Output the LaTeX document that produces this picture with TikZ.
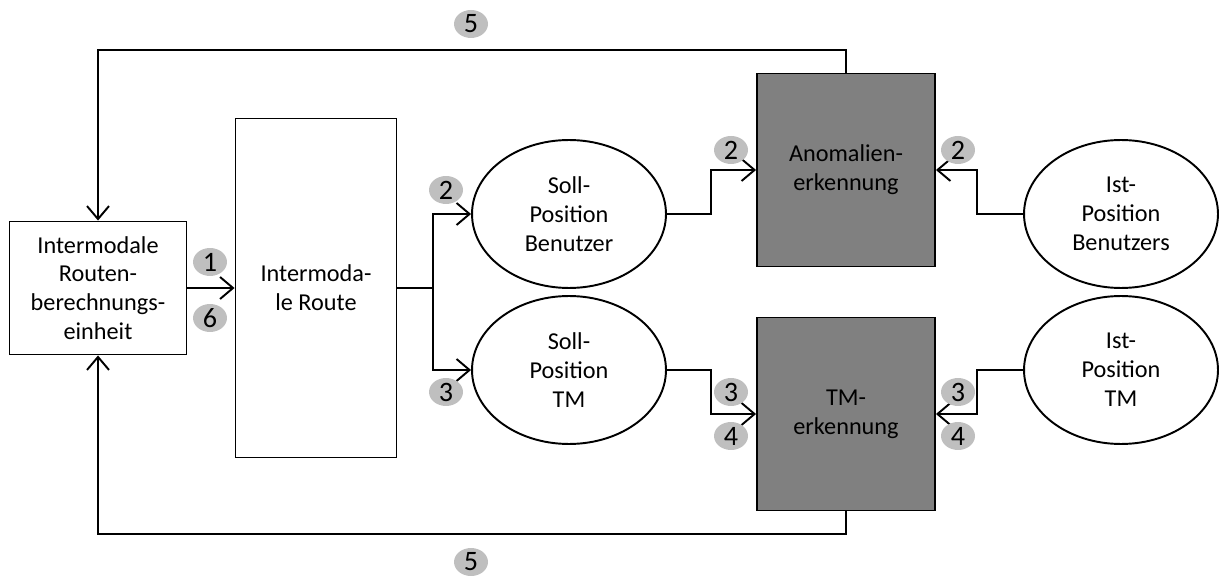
\documentclass[tikz,border=0pt]{standalone}
\usepackage{fontspec}
\setmainfont{Carlito}
\usetikzlibrary{arrows.meta,shapes.geometric,positioning,calc}
\tikzset{
	box/.style={
		rectangle, draw=black, line width=1.1pt, fill=white,
		align=center, inner sep=2pt
	},
	%
	detector/.style={
		box, fill=black!50, minimum width=3.56cm, minimum height=3.86cm
	},
	%
	position/.style={
		ellipse, draw=black, line width=1.1pt, fill=white, align=center,
		minimum width=3.88cm, minimum height=2.96cm, inner sep=0pt
	},
	%
	badge/.style={
		ellipse, fill=black!25, inner sep=0pt, font=\fontsize{16}{16}\selectfont,
		minimum width=0.68cm, minimum height=0.56cm
	},
	%
	flow/.style={
		line width=1.1pt, -{Straight Barb[length=2.6mm,width=4.4mm,line width=1.1pt]}
	}
}

\begin{document}
\begin{tikzpicture}[x=0.02cm, y=-0.02cm, font=\fontsize{13.8}{16.4}\selectfont]
    \useasboundingbox (0,0) rectangle (1220,577);
    \node(calc)[box, minimum width=3.54cm, minimum height=2.66cm] at (98,288) {Intermodale\\Routen-\\berechnungs-\\einheit};
    \node(route)[box, minimum width=3.22cm, minimum height=6.78cm] at (316,288) {Intermoda-\\le Route};
    \node(soll1)[position] at (569,214) {Soll-\\Position\\Benutzer};
    \node(soll2)[position] at (569,370) {Soll-\\Position\\TM};
    \node(anom)[detector] at (846,170) {Anomalien-\\erkennung};
    \node(tm)[detector] at (846,414) {TM-\\erkennung};
    \node(ist1)[position] at (1121,214) {Ist-\\Position\\Benutzers};
    \node(ist2)[position] at (1121,370) {Ist-\\Position\\TM};
    % connectors
    \draw[flow] (calc.east) -- (calc.east -| route.west);
    \coordinate(split) at ($(route.east)+(36,0)$);
    \draw[line width=1.1pt] (route.east) -- (split);
    \draw[flow] (split) |- (soll1.west);
    \draw[flow] (split) |- (soll2.west);
    \draw[flow] (soll1.east) -- ++(44,0) |- (anom.west);
    \draw[flow] (soll2.east) -- ++(44,0) |- (tm.west);
    \draw[flow] (ist1.west) -- ++(-46,0) |- (anom.east);
    \draw[flow] (ist2.west) -- ++(-46,0) |- (tm.east);
    \draw[flow] (anom.north) -- ++(0,-23) -| (calc.north);
    \draw[flow] (tm.south) -- ++(0,23) -| (calc.south);
    % step numbers
    \node(b1)[badge] at (210,262) {1};
    \node(b6)[badge] at (210,318) {6};
    \node(b2a)[badge] at (446,190) {2};
    \node(b3a)[badge] at (446,392) {3};
    \node(b2b)[badge] at (731,150) {2};
    \node(b3b)[badge] at (731,392) {3};
    \node(b4b)[badge] at (731,436) {4};
    \node(b2c)[badge] at (958,150) {2};
    \node(b3c)[badge] at (958,392) {3};
    \node(b4c)[badge] at (958,436) {4};
    \node(b5a)[badge] at (471,24) {5};
    \node(b5b)[badge] at (471,562) {5};
\end{tikzpicture}
\end{document}
